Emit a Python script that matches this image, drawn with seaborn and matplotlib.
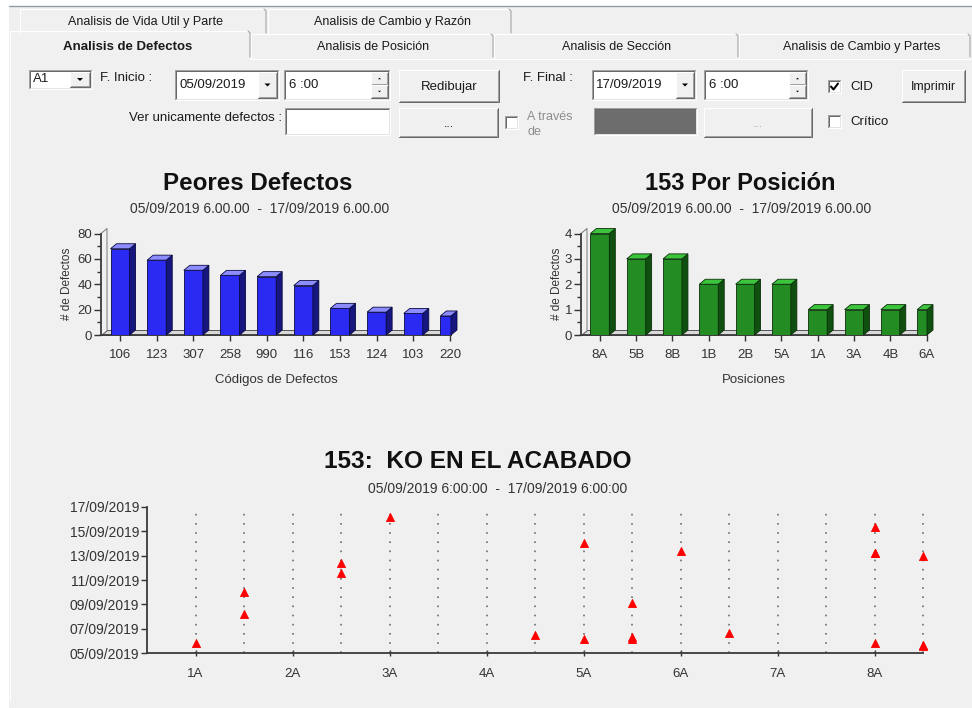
import numpy as np
import pandas as pd
import matplotlib
matplotlib.use("Agg")
import matplotlib.pyplot as plt
import matplotlib.dates as mdates
from matplotlib.patches import Rectangle, Polygon
from matplotlib.lines import Line2D
from matplotlib.transforms import Affine2D
from matplotlib.ticker import MultipleLocator, FixedLocator
import seaborn as sns

# ---------------- data ----------------
defect_codes = ["106", "123", "307", "258", "990", "116", "153", "124", "103", "220"]
defect_counts = [68, 59, 51, 47, 46, 39, 21, 18, 17, 15]

positions = ["8A", "5B", "8B", "1B", "2B", "5A", "1A", "3A", "4B", "6A"]
position_counts = [4, 3, 3, 2, 2, 2, 1, 1, 1, 1]

position_order = ["1A", "1B", "2A", "2B", "3A", "3B", "4A", "4B",
                  "5A", "5B", "6A", "6B", "7A", "7B", "8A", "8B"]
event_positions = ["1A", "1B", "1B", "2B", "2B", "3A", "4B", "5A", "5A",
                   "5B", "5B", "5B", "6A", "6B", "8A", "8A", "8A", "8A",
                   "8B", "8B", "8B"]
event_times = ["2019-09-06 03:00", "2019-09-10 07:00", "2019-09-08 11:15",
               "2019-09-12 14:40", "2019-09-11 19:10", "2019-09-16 10:20",
               "2019-09-06 18:00", "2019-09-06 09:35", "2019-09-14 07:10",
               "2019-09-09 09:20", "2019-09-06 11:00", "2019-09-06 13:30",
               "2019-09-13 14:50", "2019-09-06 21:20", "2019-09-15 14:40",
               "2019-09-13 11:00", "2019-09-13 12:00", "2019-09-06 01:40",
               "2019-09-13 05:50", "2019-09-05 19:30", "2019-09-05 22:30"]

range_start = "2019-09-05 06:00"
range_end = "2019-09-17 06:00"
period_dots = "05/09/2019 6.00.00  -  17/09/2019 6.00.00"
period_colons = "05/09/2019 6:00:00  -  17/09/2019 6:00:00"

# ---------------- style ----------------
sns.set_style("ticks", {"axes.facecolor": "none"})
plt.rcParams["font.family"] = ["Liberation Sans", "DejaVu Sans"]

W, H = 972, 708
BG = "#f0f0f0"
TXT = "#1a1a1a"
fig = plt.figure(figsize=(W / 100, H / 100), dpi=100, facecolor="white")
PX = Affine2D().scale(1 / W, -1 / H).translate(0, 1) + fig.transFigure


def rect(x0, y0, x1, y1, fc, z=1):
    fig.add_artist(Rectangle((x0, y0), x1 - x0, y1 - y0, transform=PX,
                             facecolor=fc, edgecolor="none", zorder=z))


def line(xs, ys, color, lw=1.0, z=3):
    fig.add_artist(Line2D(xs, ys, transform=PX, color=color,
                          linewidth=lw * 0.72, zorder=z))


def text(x, y, s, size=9.5, ha="left", va="center", weight="normal",
         color=TXT):
    fig.text(x, y, s, transform=PX, fontsize=size, ha=ha, va=va,
             fontweight=weight, color=color, zorder=6)


def sunken(x0, y0, x1, y1, fc="white"):
    rect(x0, y0, x1, y1, fc, z=2)
    line([x0, x0, x1], [y1, y0, y0], "#a0a0a0")
    line([x0 + 1, x0 + 1, x1 - 1], [y1 - 1, y0 + 1, y0 + 1], "#696969")
    line([x0, x1, x1], [y1, y1, y0], "#ffffff")
    line([x0 + 1, x1 - 1, x1 - 1], [y1 - 1, y1 - 1, y0 + 1], "#e3e3e3")


def raised(x0, y0, x1, y1, fc=BG):
    rect(x0, y0, x1, y1, fc, z=2)
    line([x0, x0, x1], [y1, y0, y0], "#ffffff")
    line([x0, x1, x1], [y1, y1, y0], "#696969")
    line([x0 + 1, x1 - 1, x1 - 1], [y1 - 1, y1 - 1, y0 + 1], "#a0a0a0")


def tri_down(cx, cy, s=3.0, color="#000000"):
    fig.add_artist(Polygon([(cx - s, cy - s / 2), (cx + s, cy - s / 2),
                            (cx, cy + s / 2)], closed=True, transform=PX,
                           facecolor=color, edgecolor="none", zorder=4))


def tri_up(cx, cy, s=2.0, color="#000000"):
    fig.add_artist(Polygon([(cx - s, cy + s / 2), (cx + s, cy + s / 2),
                            (cx, cy - s / 2)], closed=True, transform=PX,
                           facecolor=color, edgecolor="none", zorder=4))


def combo(x0, y0, x1, y1, s, bx0):
    sunken(x0, y0, x1, y1)
    raised(bx0, y0 + 2, x1 - 2, y1 - 2)
    tri_down((bx0 + x1 - 2) / 2, (y0 + y1) / 2)
    text(x0 + 4, (y0 + y1) / 2, s, size=9.5)


def spin(x0, y0, x1, y1, s):
    sunken(x0, y0, x1, y1)
    bx0 = x1 - 19
    mid = (y0 + y1) / 2
    raised(bx0, y0 + 2, x1 - 2, mid)
    raised(bx0, mid, x1 - 2, y1 - 2)
    tri_up((bx0 + x1 - 2) / 2, (y0 + 2 + mid) / 2, 1.5)
    tri_down((bx0 + x1 - 2) / 2, (mid + y1 - 2) / 2, 1.5)
    text(x0 + 5, (y0 + y1) / 2, s, size=9.5)


def checkbox(x0, y0, checked=False):
    sunken(x0, y0, x0 + 13, y0 + 13)
    if checked:
        line([x0 + 3, x0 + 5.5, x0 + 10], [y0 + 6.5, y0 + 9.5, y0 + 3.5],
             "#000000", lw=2.0, z=5)


# ---------------- window frame and tabs ----------------
rect(9, 6, W, H, BG, z=0)
line([9, W], [5.5, 5.5], "#8d96a5", 1.3)

# back row of tabs
for x0, x1, label, cx in [(20, 266, "Analisis de Vida Util y Parte", 145),
                          (268, 511, "Analisis de Cambio y Razón", 392)]:
    line([x0, x0, x1 - 2], [33, 9, 9], "#ffffff")
    line([x1 - 2, x1, x1], [9, 11, 33], "#a0a0a0")
    text(cx, 22, label, size=9.0, ha="center")

# front row of tabs
line([10, 10, 248], [700, 31, 31], "#ffffff")
line([248, 250, 250], [31, 33, 57], "#a0a0a0")
for x0, x1 in [(251, 493), (494, 738), (739, 970)]:
    line([x0, x0, x1 - 2], [58, 34, 34], "#ffffff")
    line([x1 - 2, x1, x1], [34, 36, 57], "#a0a0a0")
line([250, 970], [58.5, 58.5], "#ffffff")
text(128, 47, "Analisis de Defectos", size=9.5, ha="center", weight="bold")
text(373, 47, "Analisis de Posición", size=9.0, ha="center")
text(617, 47, "Analisis de Sección", size=9.0, ha="center")
text(862, 47, "Analisis de Cambio y Partes", size=9.0, ha="center")

# ---------------- filter controls ----------------
combo(29, 70, 92, 89, "A1", 70)
text(100, 78, "F. Inicio :", size=9.5)
combo(175, 70, 279, 100, "05/09/2019", 258)
spin(284, 70, 390, 100, "6 :00")
raised(399, 70, 499, 102)
text(449, 87, "Redibujar", size=9.5, ha="center")

text(523, 78, "F. Final :", size=9.5)
combo(592, 70, 696, 100, "17/09/2019", 676)
spin(704, 70, 808, 100, "6 :00")
checkbox(828, 80, checked=True)
text(850, 87, "CID", size=9.5)
raised(902, 70, 965, 102)
text(933, 87, "Imprimir", size=9.0, ha="center")

text(282, 118, "Ver unicamente defectos :", size=9.5, ha="right")
sunken(285, 108, 390, 135)
raised(399, 108, 498, 137)
text(449, 124, "...", size=9.0, ha="center")
checkbox(505, 116)
text(527, 117, "A través", size=9.0, color="#8c8c8c")
text(527, 132, "de", size=9.0, color="#8c8c8c")
sunken(594, 108, 697, 135, fc="#6d6d6d")
raised(704, 108, 812, 137)
text(758, 124, "...", size=9.0, ha="center", color="#b0b0b0")
checkbox(828, 115)
text(850, 122, "Crítico", size=9.5)


# ---------------- 3D-look bar charts ----------------
def ax_rect(l, t, r, b):
    return [l / W, 1 - b / H, (r - l) / W, (b - t) / H]


def bars3d(ax, labels, values, colors, ymax, major, minor, xright, xlabel):
    face, top, side, edge = colors
    df = pd.DataFrame({"label": labels, "value": values})
    sns.barplot(data=df, x="label", y="value", color=face, saturation=1,
                width=0.52, edgecolor=edge, linewidth=0.6, ax=ax, zorder=3)
    bars = list(ax.patches)
    xl = -0.52
    ax.set_xlim(xl, xright)
    ax.set_ylim(0, ymax)
    o = ax.transData.transform((0, 0))
    dx = 6.0 / (ax.transData.transform((1, 0))[0] - o[0])
    dy = 5.0 / (ax.transData.transform((0, 1))[1] - o[1])
    # floor and back wall edge
    ax.add_patch(Polygon([(xl, 0), (xright, 0), (xright, dy), (xl + dx, dy)],
                         closed=True, facecolor="#d9d9d9", edgecolor="#555555",
                         linewidth=0.7, zorder=1, clip_on=False))
    ax.add_line(Line2D([xl, xl + dx, xl + dx], [ymax, ymax + dy, dy],
                       color="#777777", linewidth=0.7, zorder=1,
                       clip_on=False))
    for p in bars:
        x0, h = p.get_x(), p.get_height()
        x1 = min(x0 + p.get_width(), xright)
        ax.add_patch(Polygon([(x1, 0), (x1 + dx, dy), (x1 + dx, h + dy), (x1, h)],
                             closed=True, facecolor=side, edgecolor=edge,
                             linewidth=0.6, zorder=3, clip_on=False))
        ax.add_patch(Polygon([(x0, h), (x1, h), (x1 + dx, h + dy), (x0 + dx, h + dy)],
                             closed=True, facecolor=top, edgecolor=edge,
                             linewidth=0.6, zorder=3, clip_on=False))
    ax.set_xticks(range(len(labels)))
    ax.set_xticklabels(labels)
    ax.yaxis.set_major_locator(MultipleLocator(major))
    ax.yaxis.set_minor_locator(MultipleLocator(minor))
    ax.tick_params(axis="y", which="major", length=5, width=1, pad=1.5,
                   labelsize=9.5, colors="#333333")
    ax.tick_params(axis="y", which="minor", length=3, width=1,
                   colors="#333333")
    ax.tick_params(axis="x", length=4, width=1, pad=6, labelsize=9.5,
                   colors="#333333")
    for s in ("top", "right"):
        ax.spines[s].set_visible(False)
    for s in ("left", "bottom"):
        ax.spines[s].set_color("#3a3a3a")
        ax.spines[s].set_linewidth(1.3)
    ax.set_xlabel(xlabel, fontsize=9.5, color="#333333")
    ax.xaxis.set_label_coords(0.5, -0.44)
    ax.xaxis.label.set_va("center")
    ax.set_ylabel("# de Defectos", fontsize=8.5, color="#333333")
    ax.yaxis.label.set_va("center")


ax1 = fig.add_axes(ax_rect(101, 233.5, 451, 335))
bars3d(ax1, defect_codes, defect_counts,
       ("#2a2af2", "#8c8cff", "#16167e", "#0a0a40"),
       80, 20, 10, 9.03, "Códigos de Defectos")
ax1.yaxis.set_label_coords(-34 / 350, 0.5)

ax2 = fig.add_axes(ax_rect(581, 233.5, 927, 335))
bars3d(ax2, positions, position_counts,
       ("#238c23", "#3cc43c", "#0f4f0f", "#0a2e0a"),
       4, 1, 0.5, 9.01, "Posiciones")
ax2.yaxis.set_label_coords(-24 / 346, 0.5)

text(258, 183, "Peores Defectos", size=17.4, ha="center", weight="bold",
     color="#111111")
text(260, 209, period_dots, size=10, ha="center", color="#333333")
text(740, 184, "153 Por Posición", size=17, ha="center", weight="bold",
     color="#111111")
text(742, 209, period_dots, size=10, ha="center", color="#333333")

# ---------------- position / date scatter ----------------
ax3 = fig.add_axes(ax_rect(147, 506.7, 923, 653.3))
events = pd.DataFrame({
    "pos": [position_order.index(p) / 2 + 1 for p in event_positions],
    "time": pd.to_datetime(event_times),
})
t0, t1 = pd.Timestamp(range_start), pd.Timestamp(range_end)
grid_x = [i / 2 + 1 for i in range(len(position_order))]
ax3.vlines(grid_x, mdates.date2num(t0), mdates.date2num(t1),
           colors="#6e6e6e", linestyles=(0, (1, 4.5)), linewidth=1.2,
           zorder=1, clip_on=False)
sns.scatterplot(data=events, x="pos", y="time", marker="^", s=34,
                color="#ff0000", edgecolor="#ff0000", linewidth=0.6,
                clip_on=False, zorder=4, legend=False, ax=ax3)
ax3.set_xlim(0.5, 8.5)
ax3.set_ylim(mdates.date2num(t0), mdates.date2num(t1))
ax3.yaxis.set_major_locator(FixedLocator(
    mdates.date2num(pd.date_range(t0, t1, freq="2D"))))
ax3.yaxis.set_major_formatter(mdates.DateFormatter("%d/%m/%Y"))
ax3.set_xticks(grid_x[::2])
ax3.set_xticklabels(position_order[::2])
ax3.tick_params(axis="y", length=4, width=1, pad=1.5, labelsize=10,
                colors="#333333")
ax3.tick_params(axis="x", direction="inout", length=5, width=1, pad=8,
                labelsize=9.5, colors="#333333")
for s in ("top", "right"):
    ax3.spines[s].set_visible(False)
for s in ("left", "bottom"):
    ax3.spines[s].set_color("#3a3a3a")
    ax3.spines[s].set_linewidth(1.3)
ax3.set_xlabel("")
ax3.set_ylabel("")

text(478, 462, "153:  KO EN EL ACABADO", size=17.6, ha="center",
     weight="bold", color="#111111")
text(498, 489, period_colons, size=10, ha="center", color="#333333")

fig.savefig("out.png", dpi=100, facecolor="white")
